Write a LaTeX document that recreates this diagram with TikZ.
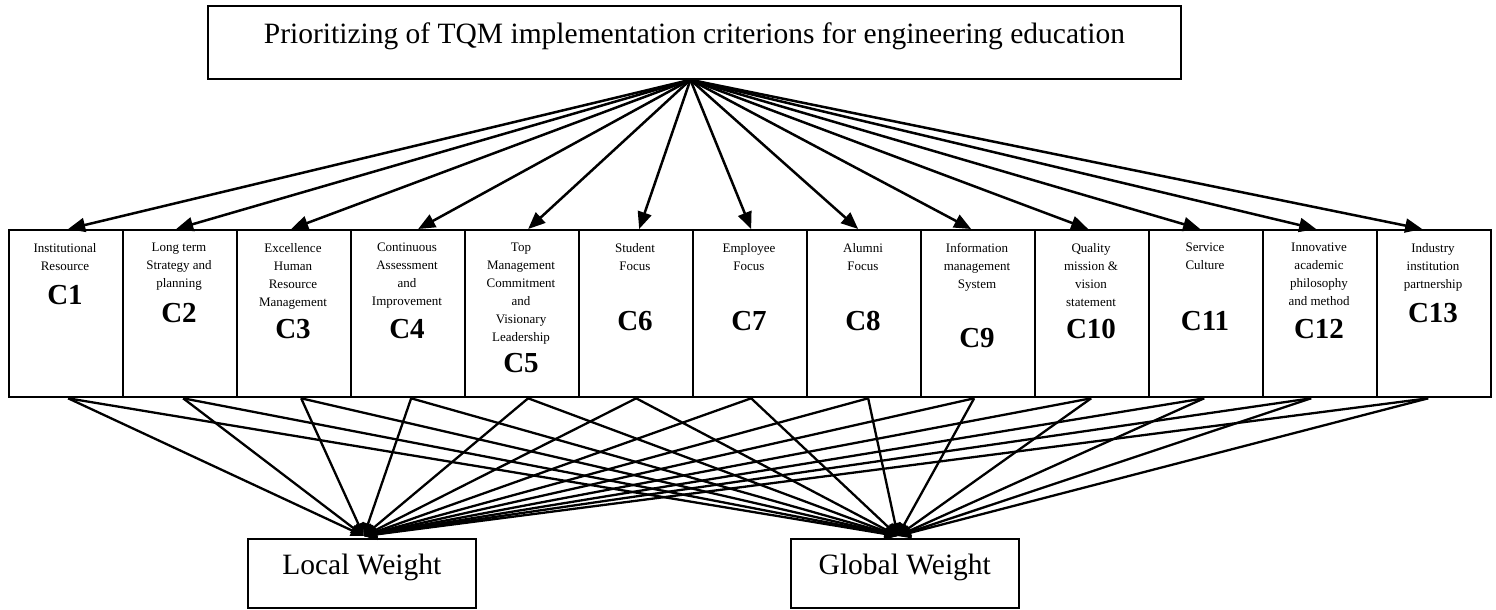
\documentclass[tikz,border=0pt]{standalone}
\usepackage{fontspec}
\setmainfont{Liberation Serif}
\usetikzlibrary{arrows.meta,calc}
\begin{document}
\begin{tikzpicture}[x=1pt,y=-1pt,
  critbox/.style={draw, line width=2.3pt, minimum width=114pt, minimum height=167pt, inner sep=0pt, anchor=north west},
  crittext/.style={align=center, font=\fontsize{13}{18}\selectfont, inner sep=0pt, anchor=north},
  critlabel/.style={font=\fontsize{29}{30}\selectfont\bfseries, inner sep=0pt, anchor=base},
  wbox/.style={draw, line width=1.6pt, minimum width=228pt, minimum height=69pt, inner sep=0pt, anchor=north west, font=\fontsize{29.5}{31}\selectfont, text height=20pt, text depth=17pt},
  toparrow/.style={line width=2.5pt, -{Triangle[length=17pt,width=14pt]}},
  botarrow/.style={line width=2.3pt, -{Triangle[length=13pt,width=11pt]}}
]
\useasboundingbox (0,0) rectangle (1496,610);
\node[draw, line width=1.8pt, minimum width=973pt, minimum height=73pt, anchor=north west,
      font=\fontsize{29.5}{31}\selectfont, text height=20pt, text depth=17pt] (top) at (207,5)
  {Prioritizing of TQM implementation criterions for engineering education};
\node[wbox] (lw) at (247,538) {Local Weight};
\node[wbox] (gw) at (790,538) {Global Weight};
\foreach \k/\txt/\base/\dx/\bx in {
  1/{Institutional\\Resource}/304/2/2,
  2/{Long term\\Strategy and\\planning}/322/-4/3,
  3/{Excellence\\Human\\Resource\\Management}/338/-3/7,
  4/{Continuous\\Assessment\\and\\Improvement}/338/10/3,
  5/{Top\\Management\\Commitment\\and\\Visionary\\Leadership}/372/6/6,
  6/{Student\\Focus}/330/3/0,
  7/{Employee\\Focus}/330/1/1,
  8/{Alumni\\Focus}/330/-6/4,
  9/{Information\\management\\System}/347/-7/-4,
  10/{Quality\\mission \&\\vision\\statement}/338/-4/-1,
  11/{Service\\Culture}/330/-6/-2,
  12/{Innovative\\academic\\philosophy\\and method}/338/-4/-9,
  13/{Industry\\institution\\partnership}/322/-12/-6}
{
  \node[critbox] (c\k) at ({8+114*(\k-1)},229) {};
  \node[crittext] (t\k) at ({65+114*(\k-1)},243) {\txt};
  \node[critlabel] (l\k) at ({65+114*(\k-1)},\base) {C\k};
  \draw[toparrow] ($(top.south)+(-4,0)$) -- ($(c\k.north)+(\dx,0)$);
  \draw[botarrow] ($(c\k.south)+(\bx,0)$) -- ($(lw.north)+(2,-2)$);
  \draw[botarrow] ($(c\k.south)+(\bx,0)$) -- ($(gw.north)+(-7,-2)$);
}
\end{tikzpicture}
\end{document}
